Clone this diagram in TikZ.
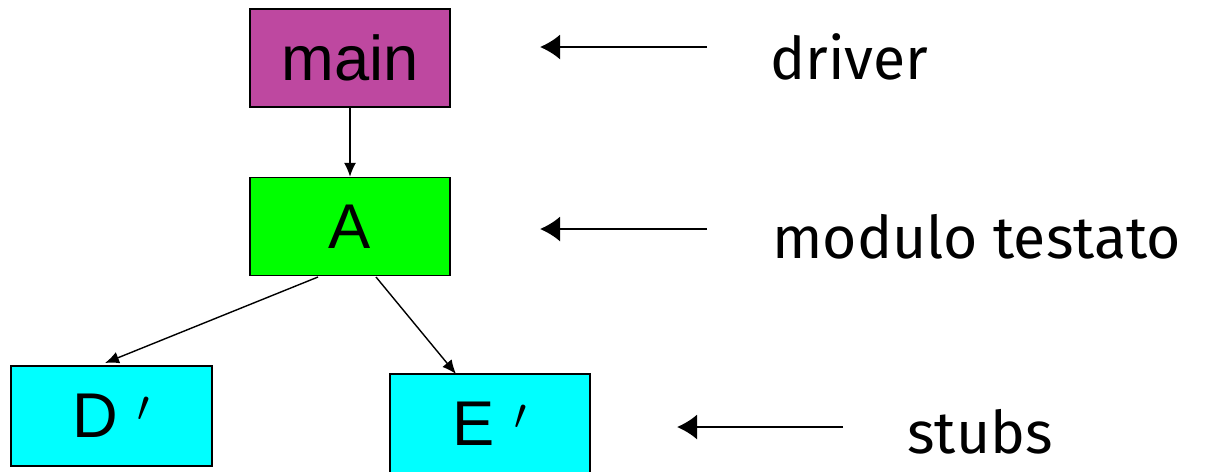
\documentclass[tikz,border=0pt]{standalone}
\usepackage{fontspec}
\setmainfont{Liberation Sans}
\newfontfamily\labelfont{Fira Sans}
\usetikzlibrary{arrows.meta}
\definecolor{mainc}{RGB}{190,72,160}
\definecolor{greenc}{RGB}{0,255,0}
\definecolor{cyanc}{RGB}{0,255,255}
\tikzset{
  box/.style={draw=black, line width=0.8pt, minimum width=4cm, minimum height=1.96cm, inner sep=0pt, font=\fontsize{36}{40}\selectfont},
  conn/.style={line width=0.8pt, -{Latex[length=0.28cm,width=0.24cm]}},
  pointer/.style={line width=1.1pt, -{Latex[length=0.4cm,width=0.5cm]}},
  lbl/.style={anchor=west, inner sep=0pt, font=\labelfont\fontsize{33.5}{40}\selectfont}
}
\begin{document}
\begin{tikzpicture}[x=0.02cm,y=-0.02cm]
\useasboundingbox (0,0) rectangle (1220,471);
\node[box, fill=mainc] (main) at (350,58) {main};
\node[box, fill=greenc] (A) at (350,226.5) {A};
\node[box, fill=cyanc, minimum width=4.02cm, minimum height=2cm] (D) at (111.5,416) {D\hspace{0.3em}$'$};
\node[box, fill=cyanc, minimum height=1.98cm] (E) at (490,423.5) {E\hspace{0.3em}$'$};
\draw[conn] (main.south) -- (A.north);
\draw[conn] (318,277) -- (105,363);
\draw[conn] (376,277) -- (456,374);
\coordinate (p1) at (707,47);
\coordinate (q1) at (540,47);
\coordinate (p2) at (707,229);
\coordinate (q2) at (540,229);
\coordinate (p3) at (843,427);
\coordinate (q3) at (677,427);
\draw[pointer] (p1) -- (q1);
\draw[pointer] (p2) -- (q2);
\draw[pointer] (p3) -- (q3);
\node[lbl] (l1) at (770,57) {driver};
\node[lbl] (l2) at (772,237) {modulo testato};
\node[lbl] (l3) at (907,432) {stubs};
\end{tikzpicture}
\end{document}
